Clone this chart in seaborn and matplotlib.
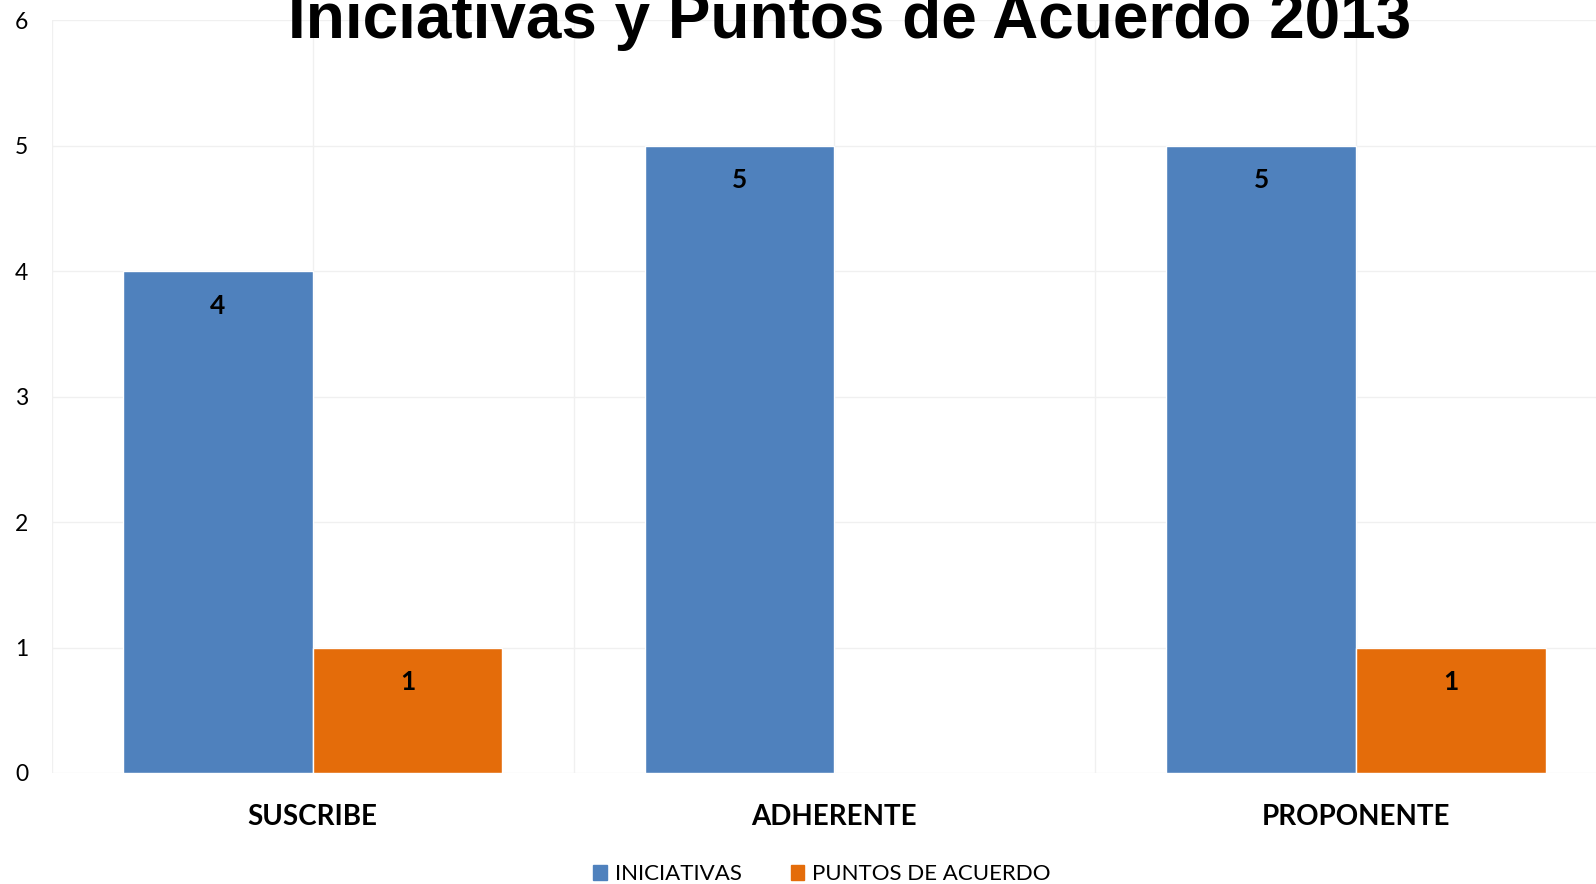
"""Iniciativas y Puntos de Acuerdo 2013 - bar chart"""

import pandas as pd
import matplotlib
matplotlib.use("Agg")
import matplotlib.pyplot as plt
import seaborn as sns

# data
categories = ['SUSCRIBE', 'ADHERENTE', 'PROPONENTE']
iniciativas = [4, 5, 5]
puntos_acuerdo = [1, 0, 1]
series_names = ['INICIATIVAS', 'PUNTOS DE ACUERDO']
y_ticks = [0, 1, 2, 3, 4, 5, 6]
title = 'Iniciativas y Puntos de Acuerdo 2013'

colors = ['#4F81BD', '#E46C0A']


def build_frame():
    rows = []
    for cat, v in zip(categories, iniciativas):
        rows.append({'cat': cat, 'serie': series_names[0], 'val': v})
    for cat, v in zip(categories, puntos_acuerdo):
        rows.append({'cat': cat, 'serie': series_names[1], 'val': v})
    return pd.DataFrame(rows)


def main():
    sns.set_style('white')
    plt.rcParams['font.family'] = ['Lato', 'DejaVu Sans']
    plt.rcParams['text.color'] = 'black'
    plt.rcParams['xtick.color'] = 'black'
    plt.rcParams['ytick.color'] = 'black'

    df = build_frame()

    fig = plt.figure(figsize=(15.96, 8.84), dpi=100)
    ax = fig.add_axes([0.0325, 0.1256, 0.9675, 0.8514])

    sns.barplot(data=df, x='cat', y='val', hue='serie', palette=colors,
                width=0.727, saturation=1, legend=False, ax=ax)

    # value labels inside the top of each bar
    for container in ax.containers:
        for p in container:
            h = p.get_height()
            if h <= 0:
                continue
            ax.annotate(f'{int(h)}', (p.get_x() + p.get_width() / 2, h),
                        xytext=(0, -25), textcoords='offset points',
                        ha='center', va='center', fontsize=19,
                        fontweight='bold', color='black')

    ax.set_yticks(y_ticks)
    ax.set_xticks(range(len(categories)))
    ax.set_xticks([-0.5, 0.5, 1.5, 2.5], minor=True)
    ax.set_xticklabels(categories, fontsize=20, fontweight='bold')
    ax.set_ylim(0, 6)
    ax.set_xlim(-0.5, 2.46)
    ax.tick_params(axis='y', labelsize=16.5, length=0, pad=17)
    ax.tick_params(axis='x', which='both', length=0, pad=22)
    ax.set_xlabel('')
    ax.set_ylabel('')

    ax.set_axisbelow(True)
    ax.grid(True, which='both', color='#F0F0F0', linewidth=1)
    for s in ax.spines.values():
        s.set_visible(False)

    fig.text(0.532, 0.957, title, ha='center', va='baseline',
             fontsize=46, fontweight='bold', color='black',
             family=['Liberation Sans', 'DejaVu Sans'])

    handles = [plt.Rectangle((0, 0), 1, 1, color=c) for c in colors]
    fig.legend(handles, series_names, loc='center', bbox_to_anchor=(0.515, 0.011),
               ncol=2, frameon=False, fontsize=16, handlelength=0.62,
               handleheight=0.62, handletextpad=0.35, columnspacing=2.2)

    fig.savefig('out.png', dpi=100)


if __name__ == "__main__":
    main()
